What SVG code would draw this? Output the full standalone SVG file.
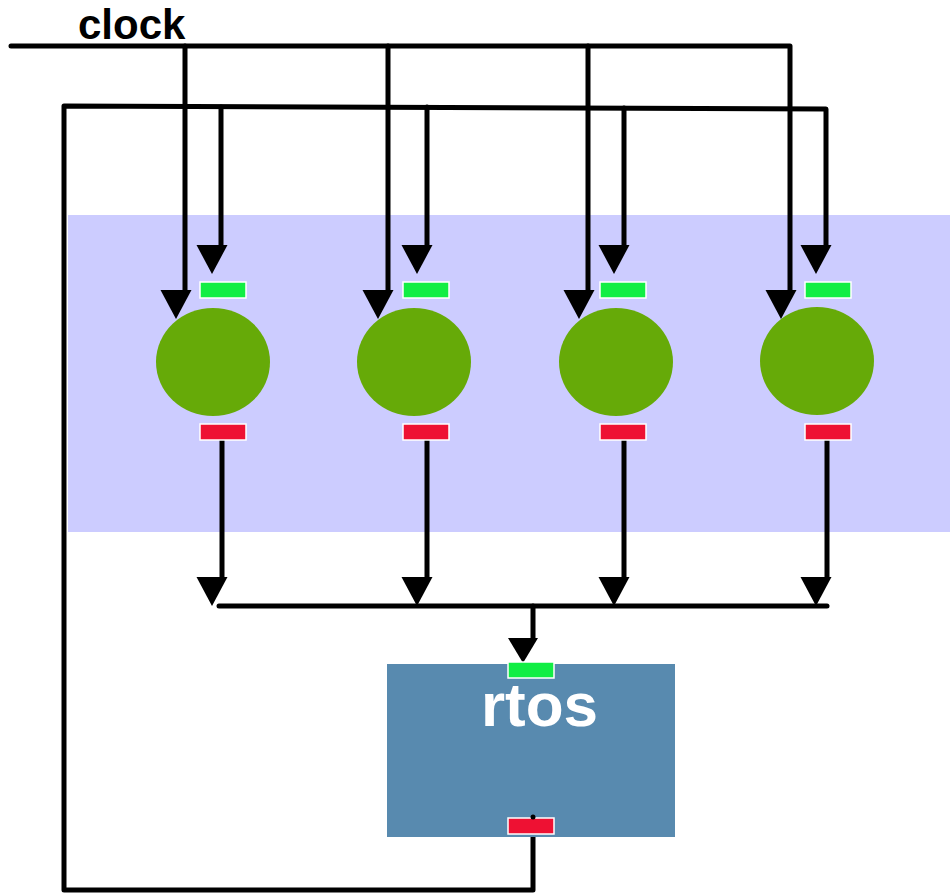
<svg xmlns="http://www.w3.org/2000/svg" xmlns:xlink="http://www.w3.org/1999/xlink" width="950" height="895" viewBox="0 0 950 895">
<style>
.wire{fill:none;stroke:#000;stroke-width:5;stroke-linecap:round;stroke-linejoin:round}
.ah{fill:#000}
.proc{fill:#66aa08}
.pin{fill:#11ee44;stroke:#fff;stroke-width:1.5}
.pout{fill:#ee1133;stroke:#fff;stroke-width:1.5}
.lbl{font-family:"Liberation Sans",Arial,sans-serif;font-weight:bold}
</style>
<defs>
<path id="arrow" d="M-15.5,0 L15.5,0 L0,29 Z"/>
</defs>
<rect id="band" x="68" y="215" width="882" height="317" fill="#ccccff"/>
<g id="clock-label"><text class="lbl" x="78" y="39" font-size="42" fill="#000">clock</text></g>
<g id="connectors">
<path class="wire" d="M11,46 L790,46 L790,290"/>
<path class="wire" d="M185,46 L185,290"/>
<path class="wire" d="M388,46 L388,290"/>
<path class="wire" d="M588,46 L588,290"/>
<path class="wire" d="M533,818 L533,890 L64,890 L64,106 L826,109 L826,245"/>
<path class="wire" d="M221,107 L221,245"/>
<path class="wire" d="M427,107 L427,245"/>
<path class="wire" d="M624,108 L624,245"/>
<path class="wire" d="M222,440 L222,577"/>
<path class="wire" d="M427,440 L427,577"/>
<path class="wire" d="M624,440 L624,577"/>
<path class="wire" d="M827,440 L827,577"/>
<path class="wire" d="M219,606 L827,606"/>
<path class="wire" d="M533,606 L533,638"/>
<g class="ah">
<use xlink:href="#arrow" x="176" y="290"/>
<use xlink:href="#arrow" x="378" y="290"/>
<use xlink:href="#arrow" x="579" y="290"/>
<use xlink:href="#arrow" x="781" y="290"/>
<use xlink:href="#arrow" x="212" y="245"/>
<use xlink:href="#arrow" x="417" y="245"/>
<use xlink:href="#arrow" x="614" y="245"/>
<use xlink:href="#arrow" x="816" y="245"/>
<use xlink:href="#arrow" x="212" y="577"/>
<use xlink:href="#arrow" x="417" y="577"/>
<use xlink:href="#arrow" x="614" y="577"/>
<use xlink:href="#arrow" x="816" y="577"/>
<path d="M508,638 L538,638 L523,663 Z"/>
</g>
</g>
<g id="node1">
<ellipse class="proc" cx="213" cy="362" rx="57" ry="54"/>
<rect class="pin" x="200" y="282" width="46" height="16"/>
<rect class="pout" x="200" y="424" width="46" height="16"/>
</g>
<g id="node2">
<ellipse class="proc" cx="414" cy="362" rx="57" ry="54"/>
<rect class="pin" x="403" y="282" width="46" height="16"/>
<rect class="pout" x="403" y="424" width="46" height="16"/>
</g>
<g id="node3">
<ellipse class="proc" cx="616" cy="362" rx="57" ry="54"/>
<rect class="pin" x="600" y="282" width="46" height="16"/>
<rect class="pout" x="600" y="424" width="46" height="16"/>
</g>
<g id="node4">
<ellipse class="proc" cx="817" cy="361" rx="57" ry="54"/>
<rect class="pin" x="805" y="282" width="46" height="16"/>
<rect class="pout" x="805" y="424" width="46" height="16"/>
</g>
<g id="rtos">
<rect x="387" y="664" width="288" height="173" fill="#588aaf"/>
<rect class="pin" x="508" y="662" width="46" height="16"/>
<rect class="pout" x="508" y="818" width="46" height="16"/>
<circle cx="533" cy="817" r="2.5" fill="#000"/>
<text class="lbl" x="539.5" y="726" font-size="62" fill="#fff" text-anchor="middle">rtos</text>
</g>
</svg>
